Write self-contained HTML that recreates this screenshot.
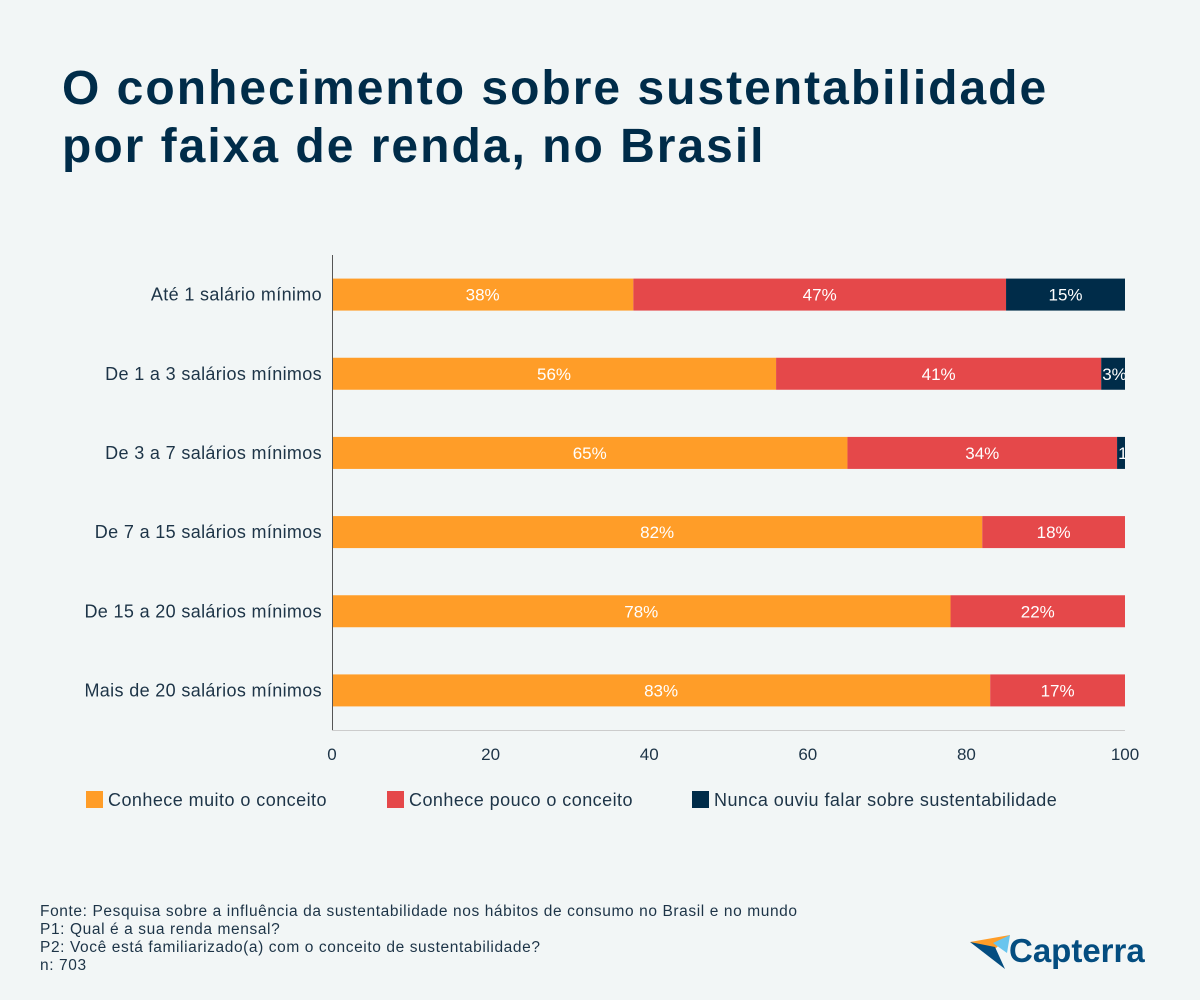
<!DOCTYPE html>
<html><head><meta charset="utf-8"><style>
body{margin:0;background:#f2f6f6;font-family:"Liberation Sans",sans-serif;}
#wrap{position:relative;width:1200px;height:1000px;overflow:hidden;background:#f2f6f6;}
h1{position:absolute;left:62px;top:60px;margin:0;font-size:48px;line-height:58px;color:#002c49;font-weight:bold;letter-spacing:2px;}
.foot{position:absolute;left:40px;top:903px;font-size:15.5px;line-height:18px;color:#1d3447;letter-spacing:0.6px;}
</style></head><body>
<div id="wrap">
<h1>O conhecimento sobre sustentabilidade<br>por faixa de renda, no Brasil</h1>
<svg id="chart" width="1200" height="1000" style="position:absolute;left:0;top:0"></svg>
<div class="foot">Fonte: Pesquisa sobre a influência da sustentabilidade nos hábitos de consumo no Brasil e no mundo<br>P1: Qual é a sua renda mensal?<br>P2: Você está familiarizado(a) com o conceito de sustentabilidade?<br>n: 703</div>
<svg width="190" height="50" style="position:absolute;left:965px;top:925px">
<polygon points="5,17 45,10 30,24" fill="#ff9d28"/>
<polygon points="28,18 45,10 42,28" fill="#68c5ee"/>
<polygon points="5,17 30,22 40,44" fill="#044d80"/>
<text x="44" y="37" font-size="33" font-weight="bold" fill="#044d80" font-family="Liberation Sans, sans-serif">Capterra</text>
</svg>
</div>
<script>
const categories=["Até 1 salário mínimo","De 1 a 3 salários mínimos","De 3 a 7 salários mínimos","De 7 a 15 salários mínimos","De 15 a 20 salários mínimos","Mais de 20 salários mínimos"];
const conheceMuito=[38,56,65,82,78,83];
const conhecePouco=[47,41,34,18,22,17];
const nunca=[15,3,1,0,0,0];
const ticks=[0,20,40,60,80,100];
const seriesNames=["Conhece muito o conceito","Conhece pouco o conceito","Nunca ouviu falar sobre sustentabilidade"];
const colors=["#ff9d28","#e5484a","#002c49"];
const svg=document.getElementById('chart');
const NS="http://www.w3.org/2000/svg";
const x0=332,x1=1125,yTop=255,yBot=730;
const xs=v=>x0+(x1-x0)*v/100;
const rowH=(yBot-yTop)/categories.length;
const yc=i=>yTop+rowH*(i+0.5);
function mk(t,a){const e=document.createElementNS(NS,t);for(const k in a)e.setAttribute(k,a[k]);svg.appendChild(e);return e;}
const defs=mk('defs',{});
const series=[conheceMuito,conhecePouco,nunca];
categories.forEach((c,i)=>{
 const lab=mk('text',{x:322,y:yc(i)+6,'text-anchor':'end','font-size':18,fill:'#1d3447','letter-spacing':0.35});
 lab.textContent=c;
 
 
 let acc=0;
 series.forEach((s,k)=>{
  const v=s[i]; if(!v)return;
  const xa=xs(acc),xb=xs(acc+v);acc+=v;
  const r=mk('rect',{x:xa,y:yc(i)-16,width:xb-xa,height:32,fill:colors[k]});
  
  
  const cp=document.createElementNS(NS,'clipPath');cp.setAttribute('id','c'+i+'_'+k);
  const cr=document.createElementNS(NS,'rect');cr.setAttribute('x',xa);cr.setAttribute('y',yc(i)-16);cr.setAttribute('width',xb-xa);cr.setAttribute('height',32);
  cp.appendChild(cr);defs.appendChild(cp);
  const narrow=(xb-xa)<32;
  const t=mk('text',{x:narrow?xa+1:(xa+xb)/2,y:yc(i)+6,'text-anchor':narrow?'start':'middle','font-size':17,fill:'#fff','clip-path':'url(#c'+i+'_'+k+')'});
  t.textContent=v+'%';
  
  
 });
});
const ax=mk('line',{x1:x0+0.5,y1:yTop,x2:x0+0.5,y2:yBot,stroke:'#555','stroke-width':1});


const bx=mk('line',{x1:x0,y1:yBot+0.5,x2:x1,y2:yBot+0.5,stroke:'#ccc','stroke-width':1});


ticks.forEach(t=>{
 const e=mk('text',{x:xs(t),y:760,'text-anchor':'middle','font-size':17,fill:'#1d3447'});
 e.textContent=t;
 
 
});
const lx=[86,387,692];
seriesNames.forEach((n,k)=>{
 const r=mk('rect',{x:lx[k],y:791,width:17,height:17,fill:colors[k]});
 
 
 const t=mk('text',{x:lx[k]+22,y:806,'font-size':18,fill:'#1d3447','letter-spacing':0.45});
 t.textContent=n;
 
 
});
</script>
</body></html>
